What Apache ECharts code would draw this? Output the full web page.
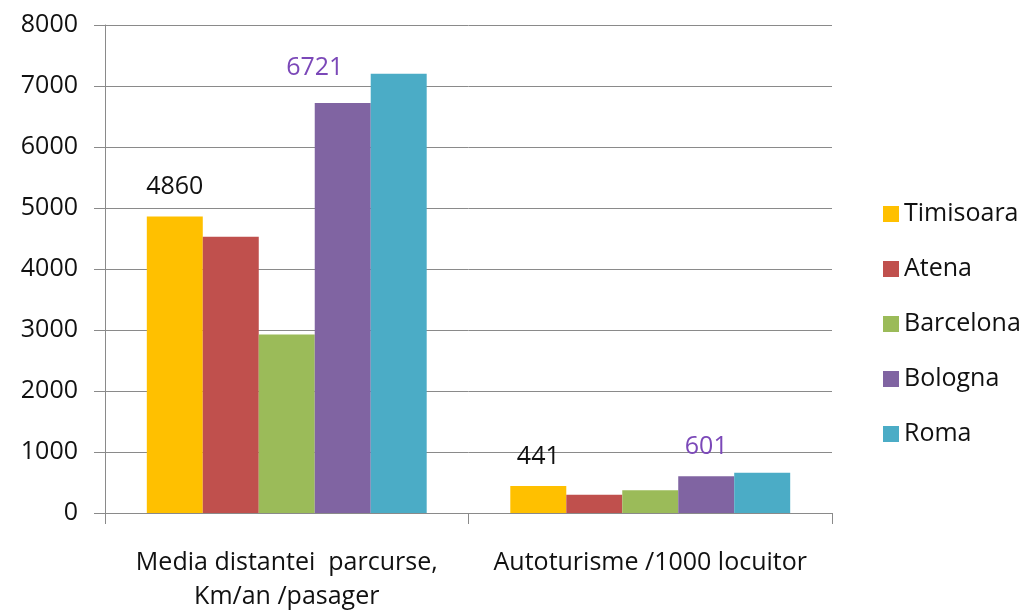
<!DOCTYPE html>
<html>
<head>
<meta charset="utf-8">
<script src="https://cdn.jsdelivr.net/npm/echarts@6/dist/echarts.min.js"></script>
<style>
  html, body { margin: 0; padding: 0; background: #fff; }
  #chart { width: 1025px; height: 612px; }
</style>
</head>
<body>
<div id="chart"></div>
<script>
// categorii si valori
const categories = ['Media distantei  parcurse,\nKm/an /pasager', 'Autoturisme /1000 locuitor'];
const timisoara = [4860, 441];
const atena = [4530, 300];
const barcelona = [2925, 375];
const bologna = [6721, 601];
const roma = [7200, 660];
const yTicks = { min: 0, max: 8000, interval: 1000 };

const FONT = 'Open Sans';
const gray = '#8a8a8a';
const textColor = '#111';

const chart = echarts.init(document.getElementById('chart'));

// etichete doar pentru Timisoara si Bologna
function withLabels(values, color, offsets) {
    return values.map((v, i) => ({
        value: v,
        label: { show: true, color: color, offset: offsets ? offsets[i] : [0, 0] }
    }));
}

const labelBase = {
    position: 'top',
    distance: 17,
    fontFamily: FONT,
    fontSize: 25,
    lineHeight: 25
};

const option = {
    animation: false,
    color: ['#FFC000', '#C0504D', '#9BBB59', '#8064A2', '#4BACC6'],
    grid: { left: 105, right: 193, top: 25, bottom: 99, outerBoundsMode: 'none' },
    legend: {
        orient: 'vertical',
        left: 878,
        top: 196,
        itemWidth: 16,
        itemHeight: 16,
        itemGap: 29,
        icon: 'rect',
        textStyle: { fontFamily: FONT, fontSize: 25, lineHeight: 26, color: textColor },
        data: ['Timisoara', 'Atena', 'Barcelona', 'Bologna', 'Roma']
    },
    xAxis: {
        type: 'category',
        data: categories,
        axisLine: { lineStyle: { color: gray, width: 1 } },
        axisTick: { show: true, length: 11, lineStyle: { color: gray } },
        axisLabel: {
            fontFamily: FONT, fontSize: 25, lineHeight: 34, color: textColor,
            margin: 33, interval: 0
        }
    },
    yAxis: {
        type: 'value',
        min: yTicks.min,
        max: yTicks.max,
        interval: yTicks.interval,
        axisLine: { show: true, lineStyle: { color: gray, width: 1 } },
        axisTick: { show: true, length: 11, lineStyle: { color: gray } },
        splitLine: { lineStyle: { color: gray, width: 1 } },
        axisLabel: {
            fontFamily: FONT, fontSize: 25, color: textColor, margin: 27,
            formatter: v => String(v)
        }
    },
    series: [
        {
            name: 'Timisoara', type: 'bar', barGap: '0%', barCategoryGap: '23%',
            label: Object.assign({}, labelBase, { show: true, color: textColor }),
            data: withLabels(timisoara, textColor)
        },
        { name: 'Atena', type: 'bar', data: atena },
        { name: 'Barcelona', type: 'bar', data: barcelona },
        {
            name: 'Bologna', type: 'bar',
            label: Object.assign({}, labelBase, { show: true, color: '#7B48B8' }),
            data: withLabels(bologna, '#7B48B8', [[-28, -6], [0, 0]])
        },
        { name: 'Roma', type: 'bar', data: roma }
    ]
};

chart.setOption(option);
</script>
</body>
</html>
